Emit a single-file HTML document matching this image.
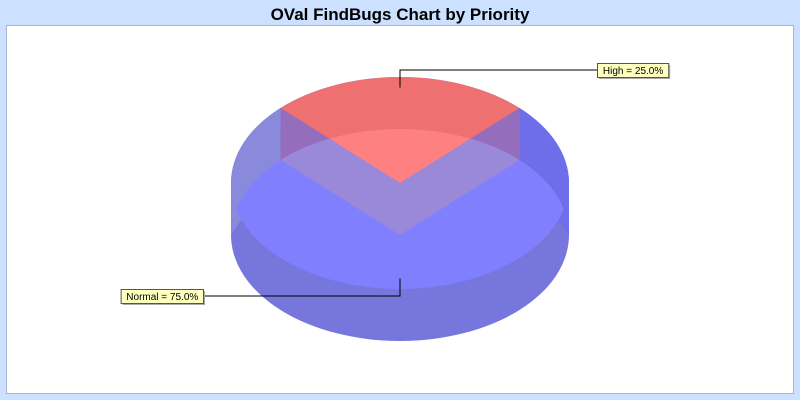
<!DOCTYPE html>
<html><head><meta charset="utf-8"><style>
html,body{margin:0;padding:0;background:#cce0ff;}
svg{display:block;font-family:"Liberation Sans",sans-serif;}
</style></head><body>
<svg id="chart" width="800" height="400" viewBox="0 0 800 400">
<rect x="0" y="0" width="800" height="400" fill="#cce0ff"/>
<text x="400" y="20" text-anchor="middle" font-size="17" font-weight="bold" fill="#000">OVal FindBugs Chart by Priority</text>
<rect x="6.5" y="25.5" width="787" height="368" fill="#fff" stroke="#a8b8cc"/>
<g id="pie"></g>
</svg>
<script>
const categories = ["High", "Normal"];
const values = [25, 75];
const labels = ["High = 25.0%", "Normal = 75.0%"];

const NS = "http://www.w3.org/2000/svg";
const cx = 400, cyTop = 183, depth = 52, rx = 169, ry = 106, startAngle = 135;
const g = document.getElementById('pie');
const svg = document.getElementById('chart');
function pt(a, cy, f) { f = f || 1; const r = a * Math.PI / 180; return [cx + rx * f * Math.cos(r), cy - ry * f * Math.sin(r)]; }
function mk(tag, attrs, parent) { const e = document.createElementNS(NS, tag); for (const k in attrs) e.setAttribute(k, attrs[k]); (parent || g).appendChild(e); return e; }
function wedgePath(a0, a1, cy) {
  const p0 = pt(a0, cy), p1 = pt(a1, cy);
  const large = Math.abs(a0 - a1) > 180 ? 1 : 0;
  return `M${cx},${cy} L${p0[0]},${p0[1]} A${rx},${ry} 0 ${large} 1 ${p1[0]},${p1[1]} Z`;
}
const total = values.reduce((a, b) => a + b, 0);
const slices = []; let a = startAngle;
values.forEach((v, i) => { const sweep = v / total * 360; slices.push({ a0: a, a1: a - sweep, i }); a -= sweep; });
const cyBot = cyTop + depth;

const defs = mk('defs', {}, svg);
const clipL = mk('clipPath', { id: 'lowClip' }, defs);
mk('ellipse', { cx, cy: cyBot, rx, ry }, clipL);
const clipU = mk('clipPath', { id: 'upClip' }, defs);
mk('ellipse', { cx, cy: cyTop, rx, ry }, clipU);

const body = mk('path', { d: `M${cx - rx},${cyTop} A${rx},${ry} 0 0 1 ${cx + rx},${cyTop} L${cx + rx},${cyBot} A${rx},${ry} 0 0 1 ${cx - rx},${cyBot} Z`, fill: '#7676dd' });



const hi = slices[0];
const pA = pt(hi.a0, cyTop), pB = pt(hi.a1, cyTop);
const lw = mk('path', { d: `M${cx - rx},${cyTop} A${rx},${ry} 0 0 1 ${pA[0]},${pA[1]} L${pA[0]},${pA[1] + depth} L${cx - rx},${cyBot} Z`, fill: '#8a8add' });


const rw = mk('path', { d: `M${pB[0]},${pB[1]} A${rx},${ry} 0 0 1 ${cx + rx},${cyTop} L${cx + rx},${cyBot} L${pB[0]},${pB[1] + depth} Z`, fill: '#6e6eea' });



const redTop = mk('path', { d: wedgePath(hi.a0, hi.a1, cyTop), fill: '#ee7070' });



function walls(fill, parent, clipId) {
  [pA, pB].forEach(p => {
    const w = mk('path', { d: `M${p[0]},${p[1]} L${cx},${cyTop} L${cx},${cyBot} L${p[0]},${p[1] + depth} Z`, fill }, parent);
    if (clipId) w.setAttribute('clip-path', `url(#${clipId})`);
    
    
  });
}
walls('#956dbd', g);
const inter = mk('g', { 'clip-path': 'url(#upClip)' });


const lowFace = mk('ellipse', { cx, cy: cyBot, rx, ry, fill: '#8080ff' }, inter);


walls('#9a88d8', inter, 'lowClip');
const redLight = mk('path', { d: wedgePath(hi.a0, hi.a1, cyTop), fill: '#ff8080', 'clip-path': 'url(#lowClip)' }, inter);



slices.forEach(s => {
  const mid = (s.a0 + s.a1) / 2;
  const anc = pt(mid, cyTop, 0.9);
  const up = Math.sin(mid * Math.PI / 180) > 0;
  const ly = up ? 70 : 296;
  const txt = labels[s.i];
  const w = txt.length * 5.6 + 4;
  const bx = up ? 597 : 203 - w;
  const ex = up ? bx : bx + w;
  const line = mk('polyline', { points: `${anc[0]},${anc[1]} ${anc[0]},${ly} ${ex},${ly}`, fill: 'none', stroke: '#000', 'stroke-width': 1 });
  
  
  const sh = mk('rect', { x: bx + 2, y: ly - 7 + 2, width: w, height: 14, fill: '#aaa' });
  
  
  const box = mk('rect', { x: bx + 0.5, y: ly - 6.5, width: w, height: 14, fill: '#ffffc0', stroke: '#555' });
  
  
  const t = mk('text', { x: bx + w / 2 + 0.5, y: ly + 4, 'text-anchor': 'middle', 'font-size': 10, fill: '#000' });
  t.textContent = txt;
  
  
});
</script>
</body></html>
